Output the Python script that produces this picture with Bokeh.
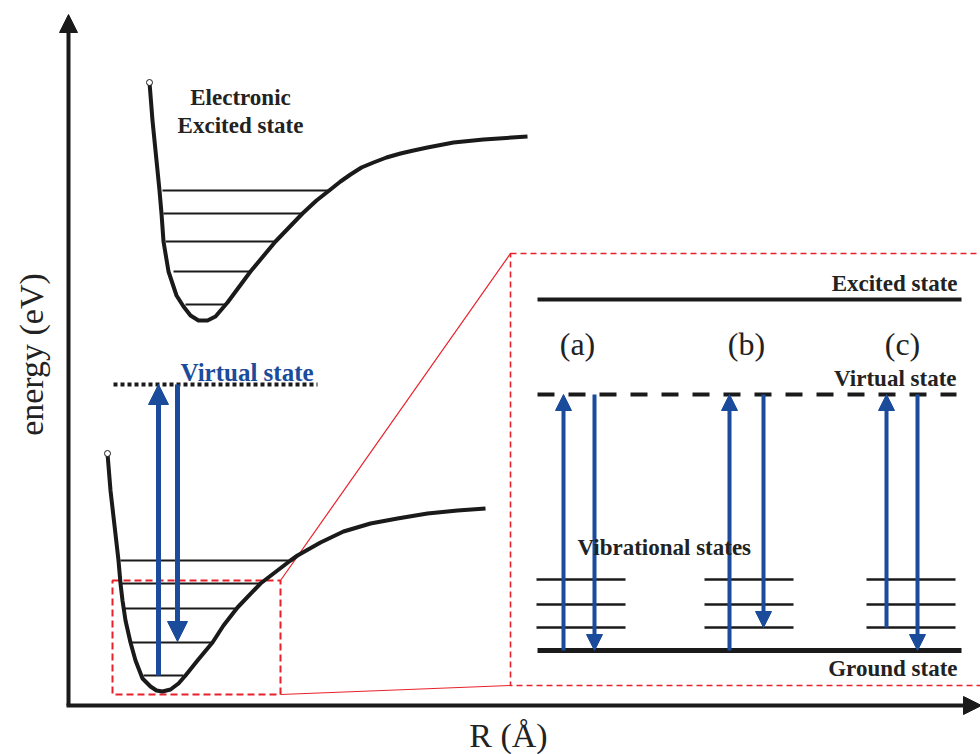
from bokeh.plotting import figure
from bokeh.models import Range1d, Arrow, NormalHead, Label, ColumnDataSource
from bokeh.embed import file_html
from bokeh.resources import INLINE

# ---------------- data (diagram units; energy axis drawn downward-flipped) ----------------
# upper potential curve (electronic excited state)
exc_R = [149, 152, 156, 159, 161, 163, 168, 176, 183, 190, 198, 207, 215, 227, 250, 275, 302, 316, 330, 340, 350, 361, 373, 386, 400, 413, 427, 453, 483, 527]
exc_E = [82, 120, 160, 190, 213, 241, 271, 295, 306, 315, 320, 320, 316, 302, 271, 241, 213, 200, 189, 181, 174, 167, 162, 157, 153, 150, 147, 142, 139, 136]
exc_lvl_E = [190, 213, 241, 271, 304]
exc_lvl_R0 = [162, 163, 165, 173, 185]
exc_lvl_R1 = [330, 302, 275, 250, 225]

# lower potential curve (ground state)
gnd_R = [107, 110, 114, 118, 120, 122, 125, 130, 135, 142, 150, 156, 162, 170, 178, 185, 197, 212, 223, 237, 260, 290, 297, 320, 343, 370, 397, 427, 457, 485]
gnd_E = [453, 490, 525, 560, 583, 600, 620, 642, 660, 678, 686, 690, 691, 689, 683, 675, 660, 642, 625, 607, 583, 560, 555, 542, 531, 523, 518, 513, 510, 508]
gnd_lvl_E = [560, 583, 608, 642, 675]
gnd_lvl_R0 = [120, 121, 122, 130, 143]
gnd_lvl_R1 = [292, 260, 236, 212, 183]

# virtual state in the main panel and its Raman arrows
virt_E = 384
virt_R = [113, 317]
main_up = dict(R=158, E0=675, E1=384)
main_down = dict(R=177, E0=384, E1=641)

# zoom window on the lower well and the inset frame
zoom_box = dict(R0=112, R1=280, E0=580, E1=694)
inset_box = dict(R0=510, R1=990, E0=253, E1=685)

# inset levels
inset_R = [537, 961]
inset_exc_E = 299
inset_virt_E = 394
inset_gnd_E = 650
vib_E = [579, 604, 627]
vib_R0 = [536, 704, 866]
vib_R1 = [625, 793, 955]
panel_labels = ["(a)", "(b)", "(c)"]
panel_R = [577, 746, 902]
panel_E = 343
up_R = [563, 729, 886]
up_from = [650, 650, 627]
down_R = [594, 763, 917]
down_to = [650, 627, 650]

# axes
axis_origin = (68, 705)
axis_R_end = 981
axis_E_end = 14

BLUE = "#1B4B9B"
RED = "#E8202A"
INK = "#1a1a1a"
FONT = "Liberation Serif"

p = figure(width=980, height=754, output_backend="svg", toolbar_location=None,
           x_range=Range1d(0, 980), y_range=Range1d(754, 0), min_border=0)
p.axis.visible = False
p.grid.visible = False
p.outline_line_color = None
p.background_fill_color = "white"
p.border_fill_color = "white"

# red zoom window + connectors + inset frame
p.quad(left=[zoom_box["R0"]], right=[zoom_box["R1"]], top=[zoom_box["E0"]], bottom=[zoom_box["E1"]],
       fill_color=None, line_color=RED, line_width=2, line_dash="7 4")
p.line([zoom_box["R1"], inset_box["R0"]], [zoom_box["E0"], inset_box["E0"]], line_color=RED, line_width=1.2)
p.line([zoom_box["R1"], inset_box["R0"]], [zoom_box["E1"], inset_box["E1"]], line_color=RED, line_width=1.2)
p.quad(left=[inset_box["R0"]], right=[inset_box["R1"]], top=[inset_box["E0"]], bottom=[inset_box["E1"]],
       fill_color=None, line_color=RED, line_width=1.6, line_dash="6 4")

# potential curves
p.line(exc_R, exc_E, line_color=INK, line_width=4, line_join="round")
p.line(gnd_R, gnd_E, line_color=INK, line_width=4, line_join="round")
p.segment(x0=exc_lvl_R0, x1=exc_lvl_R1, y0=exc_lvl_E, y1=exc_lvl_E, line_color=INK, line_width=1.8)
p.segment(x0=gnd_lvl_R0, x1=gnd_lvl_R1, y0=gnd_lvl_E, y1=gnd_lvl_E, line_color=INK, line_width=1.8)
p.scatter([exc_R[0], gnd_R[0]], [exc_E[0], gnd_E[0]], size=6, fill_color="white", line_color=INK, line_width=1)

# virtual state (main)
p.line(virt_R, [virt_E, virt_E], line_color=INK, line_width=4, line_dash="4 3")

def blue_arrows(xs, ys, xe, ye, lw, size):
    src = ColumnDataSource(dict(xs=xs, ys=ys, xe=xe, ye=ye))
    p.add_layout(Arrow(x_start="xs", y_start="ys", x_end="xe", y_end="ye", source=src,
                       line_color=BLUE, line_width=lw,
                       end=NormalHead(size=size, fill_color=BLUE, line_color=BLUE, line_width=1)))

blue_arrows([main_up["R"], main_down["R"]], [main_up["E0"], main_down["E0"]],
            [main_up["R"], main_down["R"]], [main_up["E1"], main_down["E1"]], 5, 20)

# inset
p.line(inset_R, [inset_exc_E] * 2, line_color=INK, line_width=4)
p.line(inset_R, [inset_gnd_E] * 2, line_color=INK, line_width=5)
p.line([inset_R[0], 956], [inset_virt_E] * 2, line_color=INK, line_width=4, line_dash="17 14")
for e in vib_E:
    p.segment(x0=vib_R0, x1=vib_R1, y0=[e] * 3, y1=[e] * 3, line_color=INK, line_width=2.7)
blue_arrows(up_R, up_from, up_R, [inset_virt_E] * 3, 4, 16)
blue_arrows(down_R, [inset_virt_E] * 3, down_R, down_to, 4, 16)

# axes with arrowheads
p.add_layout(Arrow(x_start=axis_origin[0], y_start=axis_origin[1], x_end=axis_origin[0], y_end=axis_E_end,
                   line_color=INK, line_width=4,
                   end=NormalHead(size=18, fill_color=INK, line_color=INK, line_width=1)))
p.add_layout(Arrow(x_start=axis_origin[0] - 2, y_start=axis_origin[1], x_end=axis_R_end, y_end=axis_origin[1],
                   line_color=INK, line_width=4,
                   end=NormalHead(size=18, fill_color=INK, line_color=INK, line_width=1)))

def label(x, y, text, size, align="center", bold=True, color="#222222", angle=0, baseline="middle"):
    p.add_layout(Label(x=x, y=y, text=text, text_font=FONT, text_font_size=f"{size}px",
                       text_font_style="bold" if bold else "normal", text_color=color,
                       text_align=align, text_baseline=baseline, angle=angle))

label(240, 97, "Electronic", 23)
label(240, 125, "Excited state", 23)
label(180, 372, "Virtual state", 25, align="left", color=BLUE)
label(957, 283, "Excited state", 23, align="right")
label(956, 378, "Virtual state", 23, align="right")
label(577, 547, "Vibrational states", 23, align="left")
label(957, 668, "Ground state", 23, align="right")
for t, x in zip(panel_labels, panel_R):
    label(x, panel_E, t, 32, bold=False)
label(31, 354, "energy (eV)", 34, bold=False, angle=1.5708)
label(508, 735, "R (Å)", 34, bold=False, baseline="middle")

open("out.html", "w").write(file_html(p, INLINE))
